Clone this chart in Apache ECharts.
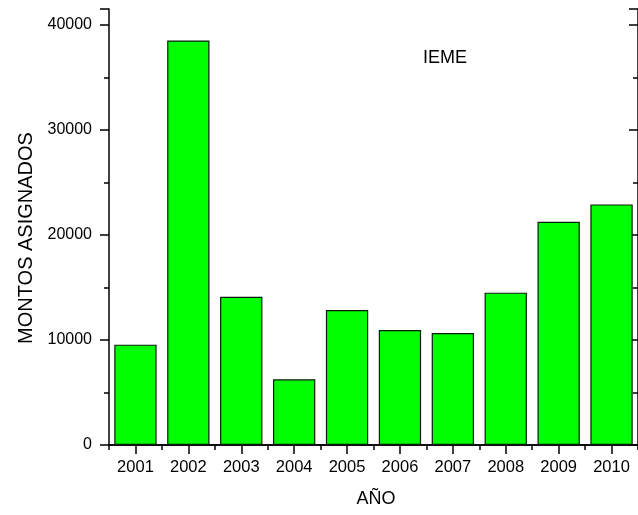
<!DOCTYPE html>
<html>
<head>
<meta charset="utf-8">
<script src="https://cdn.jsdelivr.net/npm/echarts@6/dist/echarts.min.js"></script>
<style>html,body{margin:0;padding:0;background:#fff;}#c{width:638px;height:515px;}</style>
</head>
<body>
<div id="c"></div>
<script>
const years = ['2001','2002','2003','2004','2005','2006','2007','2008','2009','2010'];
const montos = [9550, 38500, 14100, 6250, 12850, 10950, 10650, 14500, 21250, 22900];
const yTicks = [0, 10000, 20000, 30000, 40000];
const yTitle = 'MONTOS ASIGNADOS';
const xTitle = 'AÑO';
const label = 'IEME';

const FONT = 'Liberation Sans, Arial, sans-serif';
const chart = echarts.init(document.getElementById('c'), null, {renderer: 'canvas'});
const gridBox = {left: 109, top: 9, width: 533, height: 436};
const lineStyle = {color: '#000', width: 1.5};
const yMax = 41500;

function catAxis(gridIndex, position, align, len, inside, showLine) {
  return {
    type: 'category', gridIndex, position, data: years, boundaryGap: true,
    axisLine: {show: showLine, lineStyle},
    axisTick: {show: true, alignWithLabel: align, length: len, inside, lineStyle: {color: '#000', width: 1.5}},
    axisLabel: {show: position === 'bottom' && align, color: '#000', fontSize: 16.5, fontFamily: FONT, margin: 14},
    splitLine: {show: false}
  };
}
function valAxis(gridIndex, position, showLabel, inside) {
  return {
    type: 'value', gridIndex, position, min: 0, max: yMax, interval: 10000,
    axisLine: {show: true, lineStyle},
    axisTick: {show: true, length: 9, inside, lineStyle: {color: '#000', width: 1.5}},
    minorTick: {show: true, splitNumber: 2, length: 5, lineStyle: {color: '#000', width: 1.5}},
    axisLabel: {show: showLabel, color: '#000', fontSize: 16, fontFamily: FONT, margin: 17,
      customValues: yTicks, formatter: v => String(v)},
    splitLine: {show: false}, minorSplitLine: {show: false}
  };
}

const option = {
  animation: false,
  backgroundColor: '#fff',
  grid: [Object.assign({}, gridBox), Object.assign({}, gridBox)],
  xAxis: [
    catAxis(0, 'bottom', true, 9, false, true),
    catAxis(0, 'top', true, 9, true, true),
    catAxis(1, 'bottom', false, 5, false, false),
    catAxis(1, 'top', false, 5, true, false)
  ],
  yAxis: [
    valAxis(0, 'left', true, false),
    valAxis(0, 'right', false, true),
    Object.assign(valAxis(1, 'left', false, false), {axisTick: {show: false}, minorTick: {show: false}, axisLine: {show: false}}),
    Object.assign(valAxis(1, 'right', false, true), {axisTick: {show: false}, minorTick: {show: false}, axisLine: {show: false}})
  ],
  series: [{
    type: 'bar', xAxisIndex: 0, yAxisIndex: 0, data: montos,
    barCategoryGap: '20%',
    itemStyle: {color: '#00ff00', borderColor: '#0a1a0a', borderWidth: 1.2}
  }],
  graphic: [
    {type: 'text', x: 26, y: 238, rotation: Math.PI / 2,
      style: {text: yTitle, fontSize: 20, fontFamily: FONT, fill: '#000', align: 'center', verticalAlign: 'middle'}},
    {type: 'text', x: 376, y: 499,
      style: {text: xTitle, fontSize: 18, fontFamily: FONT, fill: '#000', align: 'center', verticalAlign: 'middle'}},
    {type: 'text', x: 445, y: 58,
      style: {text: label, fontSize: 18, fontFamily: FONT, fill: '#000', align: 'center', verticalAlign: 'middle'}}
  ]
};
chart.setOption(option);
</script>
</body>
</html>
